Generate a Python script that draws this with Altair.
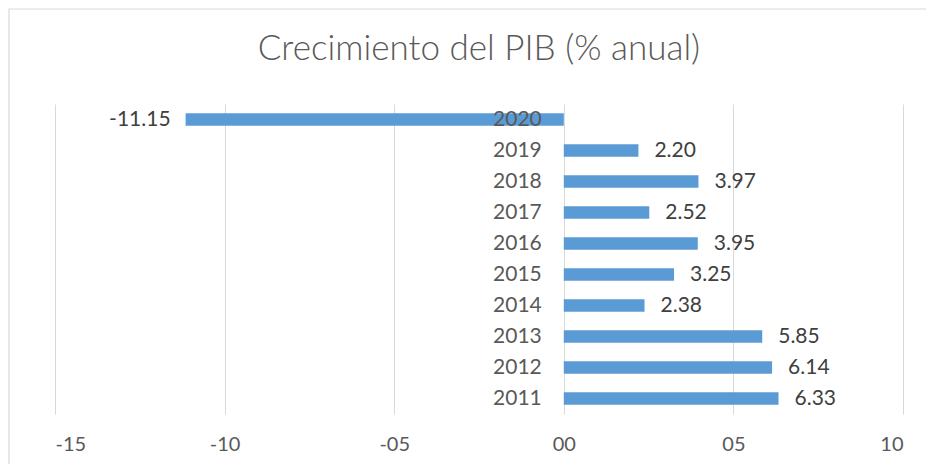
import altair as alt
import pandas as pd

years = ["2020", "2019", "2018", "2017", "2016", "2015", "2014", "2013", "2012", "2011"]
values = [-11.15, 2.20, 3.97, 2.52, 3.95, 3.25, 2.38, 5.85, 6.14, 6.33]

df = pd.DataFrame({"year": years, "value": values})
df["label"] = [f"{v:.2f}" for v in values]
df["zero"] = 0

W, H = 848, 310
FONT = "Lato"

xscale = alt.Scale(domain=[-15, 10], nice=False, zero=False)
yscale = alt.Scale(domain=years, paddingInner=0.6, paddingOuter=0.3)

base = alt.Chart(df)

border = alt.Chart(pd.DataFrame({"a": [0]})).mark_rect(
    fill="transparent", stroke="#d9d9d9", strokeWidth=1.2
).encode(
    x=alt.value(-46), x2=alt.value(W + 60), y=alt.value(-95), y2=alt.value(H + 60)
)

bars = base.mark_bar(color="#5B9BD5").encode(
    x=alt.X("value:Q", scale=xscale,
            axis=alt.Axis(values=[-15, -10, -5, 0, 5, 10], title=None, grid=True,
                          gridColor="#d9d9d9", gridWidth=1, ticks=False, domain=False,
                          labelPadding=20, labelFontSize=20, labelColor="#595959",
                          labelFont=FONT,
                          labelExpr="(datum.value<0?'-':'') + (abs(datum.value)<10?'0':'') + abs(datum.value)")),
    x2="zero:Q",
    y=alt.Y("year:N", scale=yscale, sort=years, axis=None),
)

year_labels = base.mark_text(align="right", baseline="middle", dx=-22, fontSize=21,
                             font=FONT, color="#595959").encode(
    x=alt.X("zero:Q", scale=xscale),
    y=alt.Y("year:N", scale=yscale, sort=years),
    text="year:N",
)

pos = base.transform_filter("datum.value >= 0").mark_text(
    align="left", baseline="middle", dx=16, fontSize=21, font=FONT, color="#404040"
).encode(
    x=alt.X("value:Q", scale=xscale),
    y=alt.Y("year:N", scale=yscale, sort=years),
    text="label:N",
)

neg = base.transform_filter("datum.value < 0").mark_text(
    align="right", baseline="middle", dx=-15, fontSize=21, font=FONT, color="#404040"
).encode(
    x=alt.X("value:Q", scale=xscale),
    y=alt.Y("year:N", scale=yscale, sort=years),
    text="label:N",
)

chart = alt.layer(border, bars, year_labels, pos, neg).properties(
    width=W, height=H,
    title=alt.TitleParams("Crecimiento del PIB (% anual)", fontSize=35, font=FONT,
                          fontWeight=300, color="#595959", anchor="middle",
                          baseline="alphabetic", offset=-87),
    autosize=alt.AutoSizeParams(type="none"),
    padding={"left": 47, "top": 96, "right": 23, "bottom": 50},
).configure_view(stroke="transparent", strokeWidth=0)

chart.save("out.html", embed_options={"renderer": "svg", "actions": False})
